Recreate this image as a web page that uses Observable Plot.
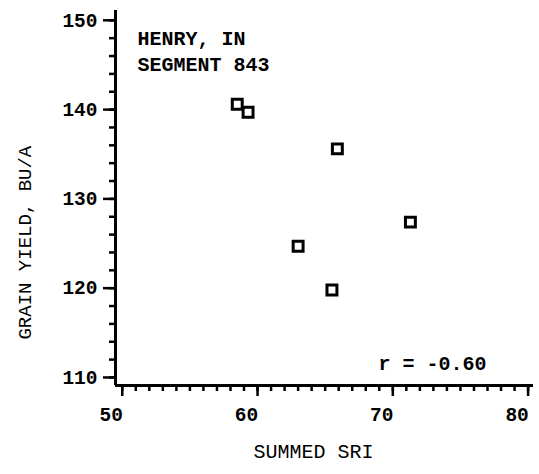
<!DOCTYPE html>
<html>
<head>
<meta charset="utf-8">
<script src="https://cdn.jsdelivr.net/npm/d3@7"></script>
<script src="https://cdn.jsdelivr.net/npm/@observablehq/plot@0.6"></script>
<style>
  html, body { margin: 0; padding: 0; background: #fff; }
  svg { display: block; }
</style>
</head>
<body>
<div id="chart"></div>
<script>
const summedSRI = [58.5, 59.3, 65.9, 71.3, 63.0, 65.5];
const grainYield = [140.6, 139.7, 135.6, 127.4, 124.7, 119.8];
const xMajorTicks = [50, 60, 70, 80];
const xMinorTicks = d3.range(50, 81, 1);
const yMajorTicks = [110, 120, 130, 140, 150];
const yMinorTicks = d3.range(110, 151, 2);
const annotation = "HENRY, IN\nSEGMENT 843";
const rLabel = "r = -0.60";
const xTitle = "SUMMED SRI";
const yTitle = "GRAIN YIELD, BU/A";

const points = summedSRI.map((x, i) => ({x, y: grainYield[i]}));
const font = "'Liberation Mono', 'DejaVu Sans Mono', monospace";

const chart = Plot.plot({
  width: 539,
  height: 474,
  marginLeft: 115,
  marginRight: 6,
  marginTop: 10,
  marginBottom: 89,
  style: {background: "#fff", color: "#000", fontFamily: font},
  x: {domain: [49.5, 80.4]},
  y: {domain: [109.1, 151.1]},
  marks: [
    Plot.axisX(xMinorTicks, {anchor: "bottom", tickSize: 6, text: null, label: null, strokeWidth: 2.5}),
    Plot.axisX(xMajorTicks, {anchor: "bottom", tickSize: 11, text: null, label: null, strokeWidth: 2.5}),
    Plot.axisY(yMinorTicks, {anchor: "left", tickSize: 6, text: null, label: null, strokeWidth: 2.5}),
    Plot.axisY(yMajorTicks, {anchor: "left", tickSize: 12, text: null, label: null, strokeWidth: 2.5}),
    Plot.ruleX([49.5], {strokeWidth: 3}),
    Plot.ruleY([109.1], {strokeWidth: 3}),
    Plot.text(xMajorTicks, {x: d => d, frameAnchor: "bottom", dy: 35, dx: -11, fontSize: 19.5, fontWeight: "bold"}),
    Plot.text(yMajorTicks, {y: d => d, frameAnchor: "left", dx: -18, textAnchor: "end", fontSize: 19.5, fontWeight: "bold"}),
    Plot.text([xTitle], {frameAnchor: "bottom", dy: 72, dx: -11, fontSize: 20}),
    Plot.text([yTitle], {x: () => 42.77, y: () => 125.1, rotate: -90, fontSize: 19}),
    Plot.text([annotation], {frameAnchor: "top-left", dx: 22, dy: 16, lineAnchor: "top", textAnchor: "start", lineHeight: 1.3, fontSize: 20, fontWeight: "bold"}),
    Plot.text([rLabel], {frameAnchor: "top-left", dx: 263, dy: 345, lineAnchor: "top", textAnchor: "start", fontSize: 20, fontWeight: "bold"}),
    Plot.dot(points, {x: "x", y: "y", symbol: "square", r: 5.6, stroke: "#000", strokeWidth: 3, fill: "#fff"})
  ]
});
document.getElementById("chart").appendChild(chart);
</script>
</body>
</html>
